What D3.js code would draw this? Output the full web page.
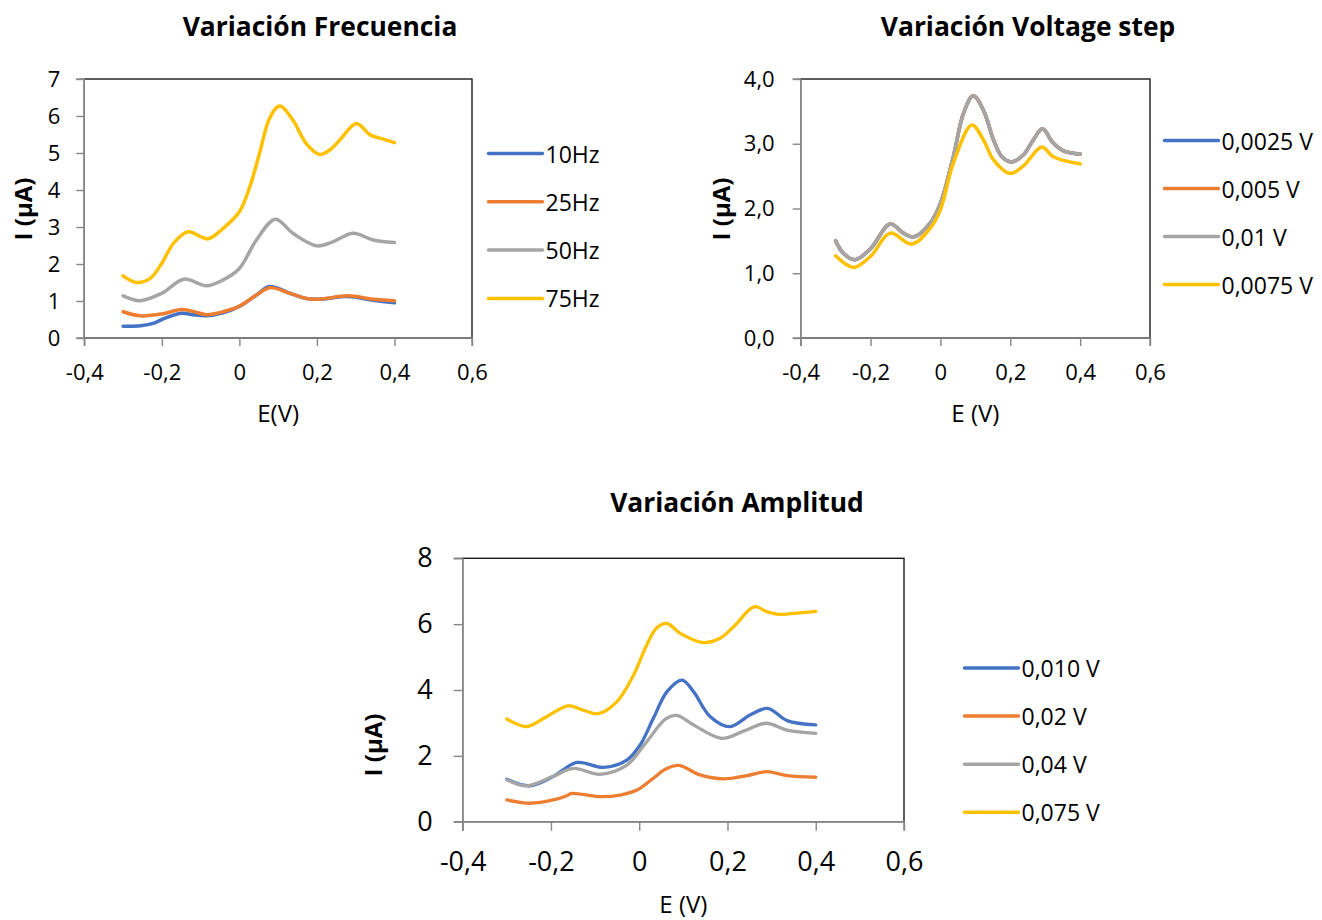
<!DOCTYPE html>
<html>
<head>
<meta charset="utf-8">
<script src="https://cdn.jsdelivr.net/npm/d3@7"></script>
<style>
  html, body { margin: 0; padding: 0; background: #fff; }
  svg { display: block; }
  text { font-family: "Open Sans", "Noto Sans", sans-serif; fill: #000; }
</style>
</head>
<body>
<svg id="fig" width="1322" height="920"></svg>
<script>
// ---- Variación Frecuencia: E (V) vs I (µA) ----
const freqLabels = ["10Hz", "25Hz", "50Hz", "75Hz"];
const freq10 = [[-0.3,0.32],[-0.255,0.33],[-0.22,0.40],[-0.2,0.50],[-0.15,0.67],[-0.12,0.63],[-0.085,0.60],[-0.042,0.68],[0,0.85],[0.044,1.16],[0.078,1.39],[0.13,1.21],[0.172,1.07],[0.207,1.05],[0.28,1.12],[0.345,1.02],[0.4,0.95]];
const freq25 = [[-0.3,0.71],[-0.255,0.60],[-0.2,0.65],[-0.149,0.77],[-0.12,0.72],[-0.085,0.63],[-0.042,0.71],[0,0.86],[0.044,1.16],[0.078,1.36],[0.13,1.21],[0.172,1.07],[0.207,1.05],[0.28,1.14],[0.345,1.05],[0.4,1.01]];
const freq50 = [[-0.3,1.14],[-0.255,1.01],[-0.2,1.21],[-0.143,1.59],[-0.085,1.41],[-0.042,1.57],[0,1.88],[0.044,2.65],[0.093,3.21],[0.138,2.83],[0.2,2.49],[0.241,2.60],[0.293,2.83],[0.345,2.65],[0.4,2.58]];
const freq75 = [[-0.3,1.68],[-0.265,1.50],[-0.23,1.61],[-0.2,2.02],[-0.17,2.56],[-0.132,2.87],[-0.1,2.74],[-0.08,2.68],[-0.042,2.96],[0,3.41],[0.027,4.09],[0.052,4.99],[0.078,5.94],[0.104,6.27],[0.138,5.89],[0.172,5.26],[0.207,4.96],[0.233,5.08],[0.259,5.35],[0.302,5.80],[0.337,5.49],[0.362,5.40],[0.4,5.28]];
const freqYTicks = [0, 1, 2, 3, 4, 5, 6, 7];

// ---- Variación Voltage step ----
const stepLabels = ["0,0025 V", "0,005 V", "0,01 V", "0,0075 V"];
const step0025 = [[-0.3,1.50],[-0.278,1.31],[-0.244,1.21],[-0.2,1.38],[-0.144,1.76],[-0.106,1.62],[-0.077,1.56],[-0.03,1.77],[0,2.08],[0.037,2.80],[0.066,3.47],[0.094,3.74],[0.123,3.52],[0.152,3.06],[0.176,2.80],[0.204,2.72],[0.238,2.83],[0.266,3.06],[0.292,3.23],[0.323,3.01],[0.352,2.89],[0.4,2.84]];
const step005 = [[-0.3,1.50],[-0.278,1.31],[-0.244,1.21],[-0.2,1.38],[-0.144,1.76],[-0.106,1.62],[-0.077,1.56],[-0.03,1.77],[0,2.08],[0.037,2.80],[0.066,3.47],[0.094,3.74],[0.123,3.52],[0.152,3.06],[0.176,2.80],[0.204,2.72],[0.238,2.83],[0.266,3.06],[0.292,3.23],[0.323,3.01],[0.352,2.89],[0.4,2.84]];
const step01 = [[-0.3,1.50],[-0.278,1.31],[-0.244,1.21],[-0.2,1.38],[-0.144,1.76],[-0.106,1.62],[-0.077,1.56],[-0.03,1.77],[0,2.08],[0.037,2.80],[0.066,3.47],[0.094,3.74],[0.123,3.52],[0.152,3.06],[0.176,2.80],[0.204,2.72],[0.238,2.83],[0.266,3.06],[0.292,3.23],[0.323,3.01],[0.352,2.89],[0.4,2.84]];
const step0075 = [[-0.3,1.27],[-0.249,1.09],[-0.2,1.26],[-0.144,1.62],[-0.082,1.45],[-0.03,1.69],[0,1.98],[0.037,2.70],[0.09,3.29],[0.123,3.06],[0.152,2.75],[0.199,2.54],[0.238,2.66],[0.29,2.95],[0.323,2.80],[0.4,2.69]];
const stepYTicks = [0, 1, 2, 3, 4];

// ---- Variación Amplitud ----
const ampLabels = ["0,010 V", "0,02 V", "0,04 V", "0,075 V"];
const amp010 = [[-0.3,1.29],[-0.247,1.09],[-0.195,1.37],[-0.141,1.80],[-0.081,1.65],[-0.028,1.87],[0.002,2.33],[0.032,3.14],[0.063,3.95],[0.097,4.30],[0.123,3.95],[0.161,3.19],[0.206,2.89],[0.251,3.24],[0.291,3.44],[0.335,3.07],[0.4,2.94]];
const amp02 = [[-0.3,0.66],[-0.247,0.56],[-0.195,0.66],[-0.164,0.79],[-0.153,0.86],[-0.089,0.76],[-0.043,0.81],[-0.005,0.96],[0.032,1.32],[0.06,1.60],[0.09,1.71],[0.138,1.42],[0.191,1.30],[0.244,1.40],[0.289,1.52],[0.335,1.40],[0.4,1.35]];
const amp04 = [[-0.3,1.27],[-0.255,1.09],[-0.195,1.38],[-0.149,1.62],[-0.089,1.44],[-0.028,1.72],[0.017,2.43],[0.06,3.12],[0.085,3.23],[0.123,2.94],[0.187,2.53],[0.236,2.75],[0.288,2.99],[0.335,2.78],[0.4,2.68]];
const amp075 = [[-0.3,3.12],[-0.255,2.89],[-0.21,3.19],[-0.161,3.52],[-0.127,3.39],[-0.093,3.28],[-0.051,3.64],[-0.013,4.45],[0.017,5.37],[0.04,5.89],[0.063,6.02],[0.093,5.72],[0.146,5.44],[0.183,5.57],[0.214,5.92],[0.261,6.53],[0.289,6.38],[0.316,6.30],[0.35,6.33],[0.4,6.39]];
const ampYTicks = [0, 2, 4, 6, 8];

const xTicks = [-0.4, -0.2, 0, 0.2, 0.4, 0.6];
const seriesColors = ["#4472C4", "#ED7D31", "#A5A5A5", "#FFC000"];

const es = d3.formatLocale({ decimal: ",", thousands: ".", grouping: [3], currency: ["", " €"], minus: "-" });
const fmtX = es.format(".1~f");
const fmtInt = es.format("d");
const fmtOne = es.format(".1f");

const svg = d3.select("#fig");

function drawPanel(cfg) {
  const g = svg.append("g");
  const x = d3.scaleLinear().domain([-0.4, 0.6]).range([cfg.left, cfg.right]);
  const y = d3.scaleLinear().domain([0, cfg.yMax]).range([cfg.bottom, cfg.top]);

  // chart title
  g.append("text")
    .attr("x", cfg.titleX).attr("y", cfg.titleY)
    .attr("text-anchor", "middle")
    .style("font-weight", "700").style("font-size", "26.4px")
    .text(cfg.title);

  // plot area frame
  g.append("rect")
    .attr("x", cfg.left).attr("y", cfg.top)
    .attr("width", cfg.right - cfg.left).attr("height", cfg.bottom - cfg.top)
    .attr("fill", "#fff").attr("stroke", "#1a1a1a").attr("stroke-width", 1.4);

  // series (smoothed lines)
  const line = d3.line().x(d => x(d[0])).y(d => y(d[1])).curve(d3.curveCatmullRom.alpha(0.5));
  cfg.series.forEach((s, i) => {
    g.append("path").datum(s)
      .attr("d", line)
      .attr("fill", "none")
      .attr("stroke", seriesColors[i])
      .attr("stroke-width", cfg.lineWidth)
      .attr("stroke-linecap", "round").attr("stroke-linejoin", "round");
  });

  // axes
  const xAxis = d3.axisBottom(x).tickValues(xTicks).tickSize(cfg.tickLen).tickPadding(cfg.xPad).tickFormat(fmtX);
  const gx = g.append("g").attr("transform", `translate(0,${cfg.bottom})`).call(xAxis);
  const yAxis = d3.axisLeft(y).tickValues(cfg.yTicks).tickSize(cfg.tickLen).tickPadding(cfg.yPad).tickFormat(cfg.yFmt);
  const gy = g.append("g").attr("transform", `translate(${cfg.left},0)`).call(yAxis);
  [gx, gy].forEach(a => {
    a.select(".domain").attr("stroke", "#868686").attr("stroke-width", 1.4);
    a.selectAll(".tick line").attr("stroke", "#868686").attr("stroke-width", 1.4);
    a.selectAll(".tick text")
      .style("font-size", cfg.tickFont + "px")
      .style("font-family", '"Open Sans", sans-serif')
      .attr("fill", "#000");
  });
  gx.selectAll(".domain").attr("d", `M${cfg.left},${cfg.tickLen}V0H${cfg.right}V${cfg.tickLen}`);
  gy.selectAll(".domain").attr("d", `M${-cfg.tickLen},${cfg.bottom}H0V${cfg.top}H${-cfg.tickLen}`);

  // axis titles
  g.append("text")
    .attr("x", (cfg.left + cfg.right) / 2).attr("y", cfg.xTitleY)
    .attr("text-anchor", "middle").attr("dominant-baseline", "central")
    .style("font-size", cfg.xTitleFont + "px")
    .text(cfg.xTitle);
  g.append("text")
    .attr("transform", `translate(${cfg.yTitleX},${cfg.yTitleY}) rotate(-90)`)
    .attr("text-anchor", "middle").attr("dominant-baseline", "central")
    .style("font-size", "24px").style("font-weight", "700")
    .text("I (µA)");

  // legend
  const lg = g.append("g");
  cfg.labels.forEach((lab, i) => {
    const yy = cfg.legY + i * cfg.legStep;
    lg.append("line")
      .attr("x1", cfg.legX).attr("x2", cfg.legX + 54)
      .attr("y1", yy).attr("y2", yy)
      .attr("stroke", seriesColors[i]).attr("stroke-width", 3.5)
      .attr("stroke-linecap", "round");
    lg.append("text")
      .attr("x", cfg.legX + 57).attr("y", yy)
      .attr("dominant-baseline", "central")
      .style("font-size", "23px")
      .text(lab);
  });
}

drawPanel({
  title: "Variación Frecuencia", titleX: 320, titleY: 36,
  left: 84.3, right: 472, top: 79, bottom: 338,
  yMax: 7, yTicks: freqYTicks, yFmt: fmtInt,
  series: [freq10, freq25, freq50, freq75], labels: freqLabels,
  lineWidth: 3.5, tickLen: 8, xPad: 18, yPad: 16, tickFont: 22,
  xTitle: "E(V)", xTitleY: 412, xTitleFont: 24,
  yTitleX: 22, yTitleY: 209,
  legX: 488.5, legY: 153.5, legStep: 48.3
});

drawPanel({
  title: "Variación Voltage step", titleX: 1028, titleY: 36,
  left: 800.7, right: 1150, top: 79, bottom: 338,
  yMax: 4, yTicks: stepYTicks, yFmt: fmtOne,
  series: [step0025, step005, step01, step0075], labels: stepLabels,
  lineWidth: 3.5, tickLen: 8, xPad: 18, yPad: 18, tickFont: 22,
  xTitle: "E (V)", xTitleY: 412, xTitleFont: 24,
  yTitleX: 720, yTitleY: 209,
  legX: 1164.5, legY: 140.5, legStep: 48
});

drawPanel({
  title: "Variación Amplitud", titleX: 737, titleY: 512,
  left: 462.7, right: 904, top: 558.3, bottom: 821.7,
  yMax: 8, yTicks: ampYTicks, yFmt: fmtInt,
  series: [amp010, amp02, amp04, amp075], labels: ampLabels,
  lineWidth: 3.3, tickLen: 9, xPad: 21, yPad: 21, tickFont: 27,
  xTitle: "E (V)", xTitleY: 903, xTitleFont: 24,
  yTitleX: 372, yTitleY: 745,
  legX: 964.5, legY: 668, legStep: 48.1
});
</script>
</body>
</html>
